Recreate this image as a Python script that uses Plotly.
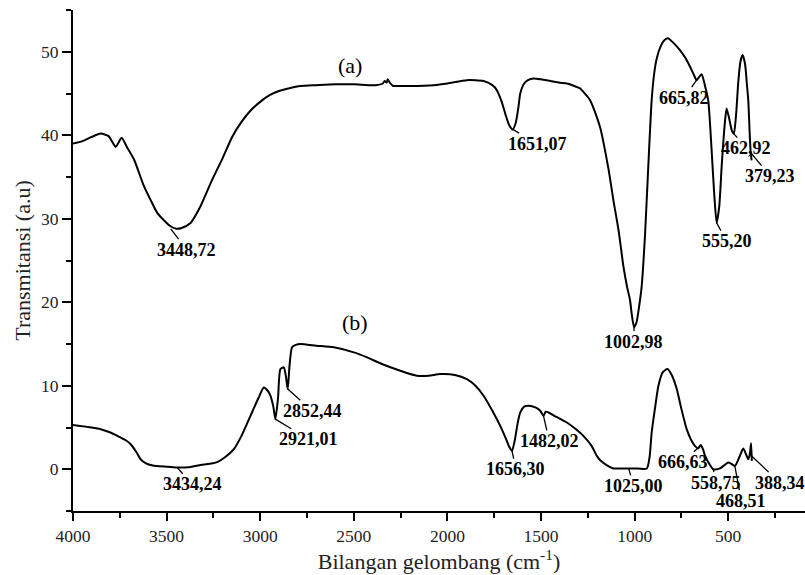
import plotly.graph_objects as go

# ---- data: spectrum (a) ----
wn_a = [4000, 3950, 3900, 3852, 3810, 3772, 3755, 3740, 3710, 3674, 3621, 3580, 3550, 3500,
        3479, 3448, 3420, 3372, 3319, 3260, 3200, 3150, 3100, 3050, 3000, 2950, 2900, 2850,
        2784, 2700, 2600, 2500, 2385, 2345, 2335, 2325, 2319, 2305, 2290, 2269, 2200, 2074,
        2000, 1896, 1807, 1760, 1736, 1710, 1690, 1670, 1651, 1635, 1620, 1611, 1590, 1570,
        1540, 1500, 1450, 1400, 1362, 1300, 1291, 1238, 1185, 1140, 1114, 1085, 1060, 1040,
        1025, 1015, 1003, 990, 971, 962, 944, 927, 909, 895, 882, 860, 840, 820, 790, 758,
        730, 704, 685, 669, 655, 642, 625, 607, 589, 575, 562, 548, 535, 520, 509, 495, 480,
        470, 458, 447, 435, 423, 410, 400, 393, 385, 380, 375]
t_a = [39.0, 39.3, 39.8, 40.2, 39.9, 38.6, 39.2, 39.7, 38.5, 37.1, 33.9, 32.0, 30.7, 29.5,
       29.1, 28.8, 28.9, 29.5, 31.5, 34.5, 37.3, 39.8, 41.6, 43.0, 44.0, 44.8, 45.3, 45.6,
       45.9, 46.0, 46.1, 46.1, 46.0, 46.2, 46.5, 46.3, 46.7, 46.2, 45.9, 45.9, 45.9, 46.0,
       46.2, 46.6, 46.5, 46.0, 45.4, 44.0, 42.5, 41.2, 40.7, 41.5, 43.5, 45.0, 46.2, 46.6,
       46.8, 46.7, 46.5, 46.3, 46.2, 45.7, 45.6, 44.2, 41.0, 36.0, 32.3, 28.5, 24.3, 21.8,
       20.3, 18.5, 17.0, 17.6, 20.3, 22.0, 28.3, 36.3, 44.2, 47.5, 49.2, 50.7, 51.4, 51.6,
       51.0, 50.2, 49.3, 48.2, 47.3, 46.6, 47.0, 47.3, 46.0, 44.2, 38.3, 33.0, 29.5, 31.5,
       36.3, 41.0, 43.2, 42.0, 40.5, 40.2, 42.5, 46.2, 48.8, 49.6, 48.5, 46.0, 44.2, 40.0,
       37.9, 37.0]

# ---- data: spectrum (b) ----
wn_b = [4000, 3900, 3852, 3800, 3763, 3720, 3692, 3660, 3639, 3610, 3585, 3540, 3496, 3440,
        3380, 3318, 3270, 3230, 3190, 3141, 3100, 3052, 3010, 2981, 2960, 2945, 2930, 2919,
        2905, 2892, 2874, 2862, 2853, 2843, 2830, 2810, 2785, 2700, 2607, 2500, 2429, 2350,
        2252, 2163, 2100, 2038, 1960, 1896, 1850, 1807, 1760, 1718, 1690, 1670, 1655, 1640,
        1625, 1611, 1590, 1567, 1530, 1504, 1487, 1475, 1460, 1420, 1362, 1320, 1274, 1230,
        1202, 1185, 1150, 1114, 1050, 1000, 935, 920, 909, 890, 873, 850, 825, 800, 775, 750,
        722, 700, 678, 660, 647, 635, 624, 600, 580, 560, 544, 520, 500, 480, 464, 440, 420,
        405, 393, 385, 378, 374]
t_b = [5.3, 5.0, 4.8, 4.4, 4.0, 3.5, 3.0, 2.0, 1.2, 0.7, 0.5, 0.35, 0.3, 0.2,
       0.25, 0.5, 0.65, 0.85, 1.4, 2.4, 4.0, 6.4, 8.5, 9.8, 9.4, 8.8, 7.5, 6.0,
       8.5, 12.0, 12.2, 11.0, 9.6, 12.5, 14.6, 14.9, 15.0, 14.8, 14.6, 14.0, 13.4, 12.6,
       11.8, 11.2, 11.2, 11.4, 11.3, 10.8, 10.0, 8.8, 7.0, 5.2, 3.8, 2.7, 2.2, 3.5,
       5.5, 6.8, 7.5, 7.6, 7.4, 7.0, 6.4, 6.9, 6.8, 6.3, 5.6, 4.9, 4.0, 2.8,
       1.6, 1.1, 0.5, 0.1, 0.1, 0.1, 0.1, 1.5, 4.4, 7.5, 10.0, 11.6, 12.0, 11.2, 9.6, 7.2,
       4.8, 3.6, 2.8, 2.5, 2.9, 2.4, 1.6, 0.6, 0.0, 0.0, 0.1, 0.5, 0.8, 0.6, 0.4, 1.5, 2.5,
       1.8, 1.2, 1.8, 3.1, 1.0]

# ---- peak labels: text, marked point, label centre ----
peak_text = ["3448,72", "1651,07", "1002,98", "665,82", "555,20", "462,92", "379,23",
             "3434,24", "2921,01", "2852,44", "1656,30", "1482,02", "1025,00", "666,63",
             "558,75", "468,51", "388,34"]
peak_x = [3478, 1651, 1003, 669, 562, 470, 380,
          3443, 2919, 2853, 1655, 1487, 1032, 655, 580, 465, 385]
peak_y = [28.8, 40.7, 17.0, 46.6, 29.5, 40.2, 37.9,
          0.2, 6.0, 9.6, 2.2, 6.4, 0.1, 2.7, 0.0, 0.4, 1.8]
label_x = [3393, 1520, 1007, 735, 509, 407, 275,
           3364, 2741, 2723, 1634, 1456, 1006, 744, 566, 430, 225]
label_y = [26.3, 39.0, 15.3, 44.5, 27.3, 38.45, 35.1,
           -1.8, 3.6, 7.0, 0.0, 3.4, -2.0, 0.85, -1.6, -3.75, -1.6]

series_names = ["(a)", "(b)"]
series_label_x = [2522, 2492]
series_label_y = [48.4, 17.6]

FONT = "Liberation Serif"

fig = go.Figure()
for wn, t, nm in [(wn_a, t_a, series_names[0]), (wn_b, t_b, series_names[1])]:
    fig.add_trace(go.Scatter(x=wn, y=t, mode="lines", name=nm,
                             line=dict(color="black", width=2, shape="spline", smoothing=0.6),
                             showlegend=False, hoverinfo="skip"))

annotations = []
for txt, px, py, lx, ly in zip(peak_text, peak_x, peak_y, label_x, label_y):
    annotations.append(dict(x=px, y=py, xref="x", yref="y", ax=lx, ay=ly,
                            axref="x", ayref="y", text="<b>" + txt + "</b>",
                            showarrow=True, arrowhead=0, arrowwidth=1.3,
                            arrowcolor="black", standoff=0, startstandoff=0,
                            font=dict(family=FONT, size=18, color="black"),
                            borderpad=0))
for nm, lx, ly in zip(series_names, series_label_x, series_label_y):
    annotations.append(dict(x=lx, y=ly, xref="x", yref="y", text=nm, showarrow=False,
                            font=dict(family=FONT, size=22, color="black")))

fig.update_layout(
    width=805, height=575,
    margin=dict(l=73, r=0, t=10, b=64),
    paper_bgcolor="white", plot_bgcolor="white",
    font=dict(family=FONT, color="black"),
    annotations=annotations,
    xaxis=dict(range=[4000, 90], tick0=0, dtick=500, showgrid=False, zeroline=False,
               showline=True, linecolor="black", linewidth=2,
               ticks="outside", ticklen=8, tickwidth=2, tickcolor="black",
               tickfont=dict(family=FONT, size=17.5, color="#222"),
               minor=dict(dtick=250, tick0=0, ticks="outside", ticklen=5, tickwidth=2,
                          tickcolor="black"),
               title=dict(text="Bilangan gelombang (cm<sup>-1</sup>)",
                          font=dict(family=FONT, size=22, color="#222"), standoff=6)),
    yaxis=dict(range=[-5, 55], tick0=0, dtick=10, showgrid=False, zeroline=False,
               showline=True, linecolor="black", linewidth=2,
               ticks="outside", ticklen=9, tickwidth=2, tickcolor="black",
               tickfont=dict(family=FONT, size=17.5, color="#222"),
               minor=dict(dtick=5, tick0=0, ticks="outside", ticklen=5, tickwidth=2,
                          tickcolor="black"),
               title=dict(text="Transmitansi (a.u)",
                          font=dict(family=FONT, size=22, color="#222"), standoff=4)),
)

fig.write_html("out.html")
